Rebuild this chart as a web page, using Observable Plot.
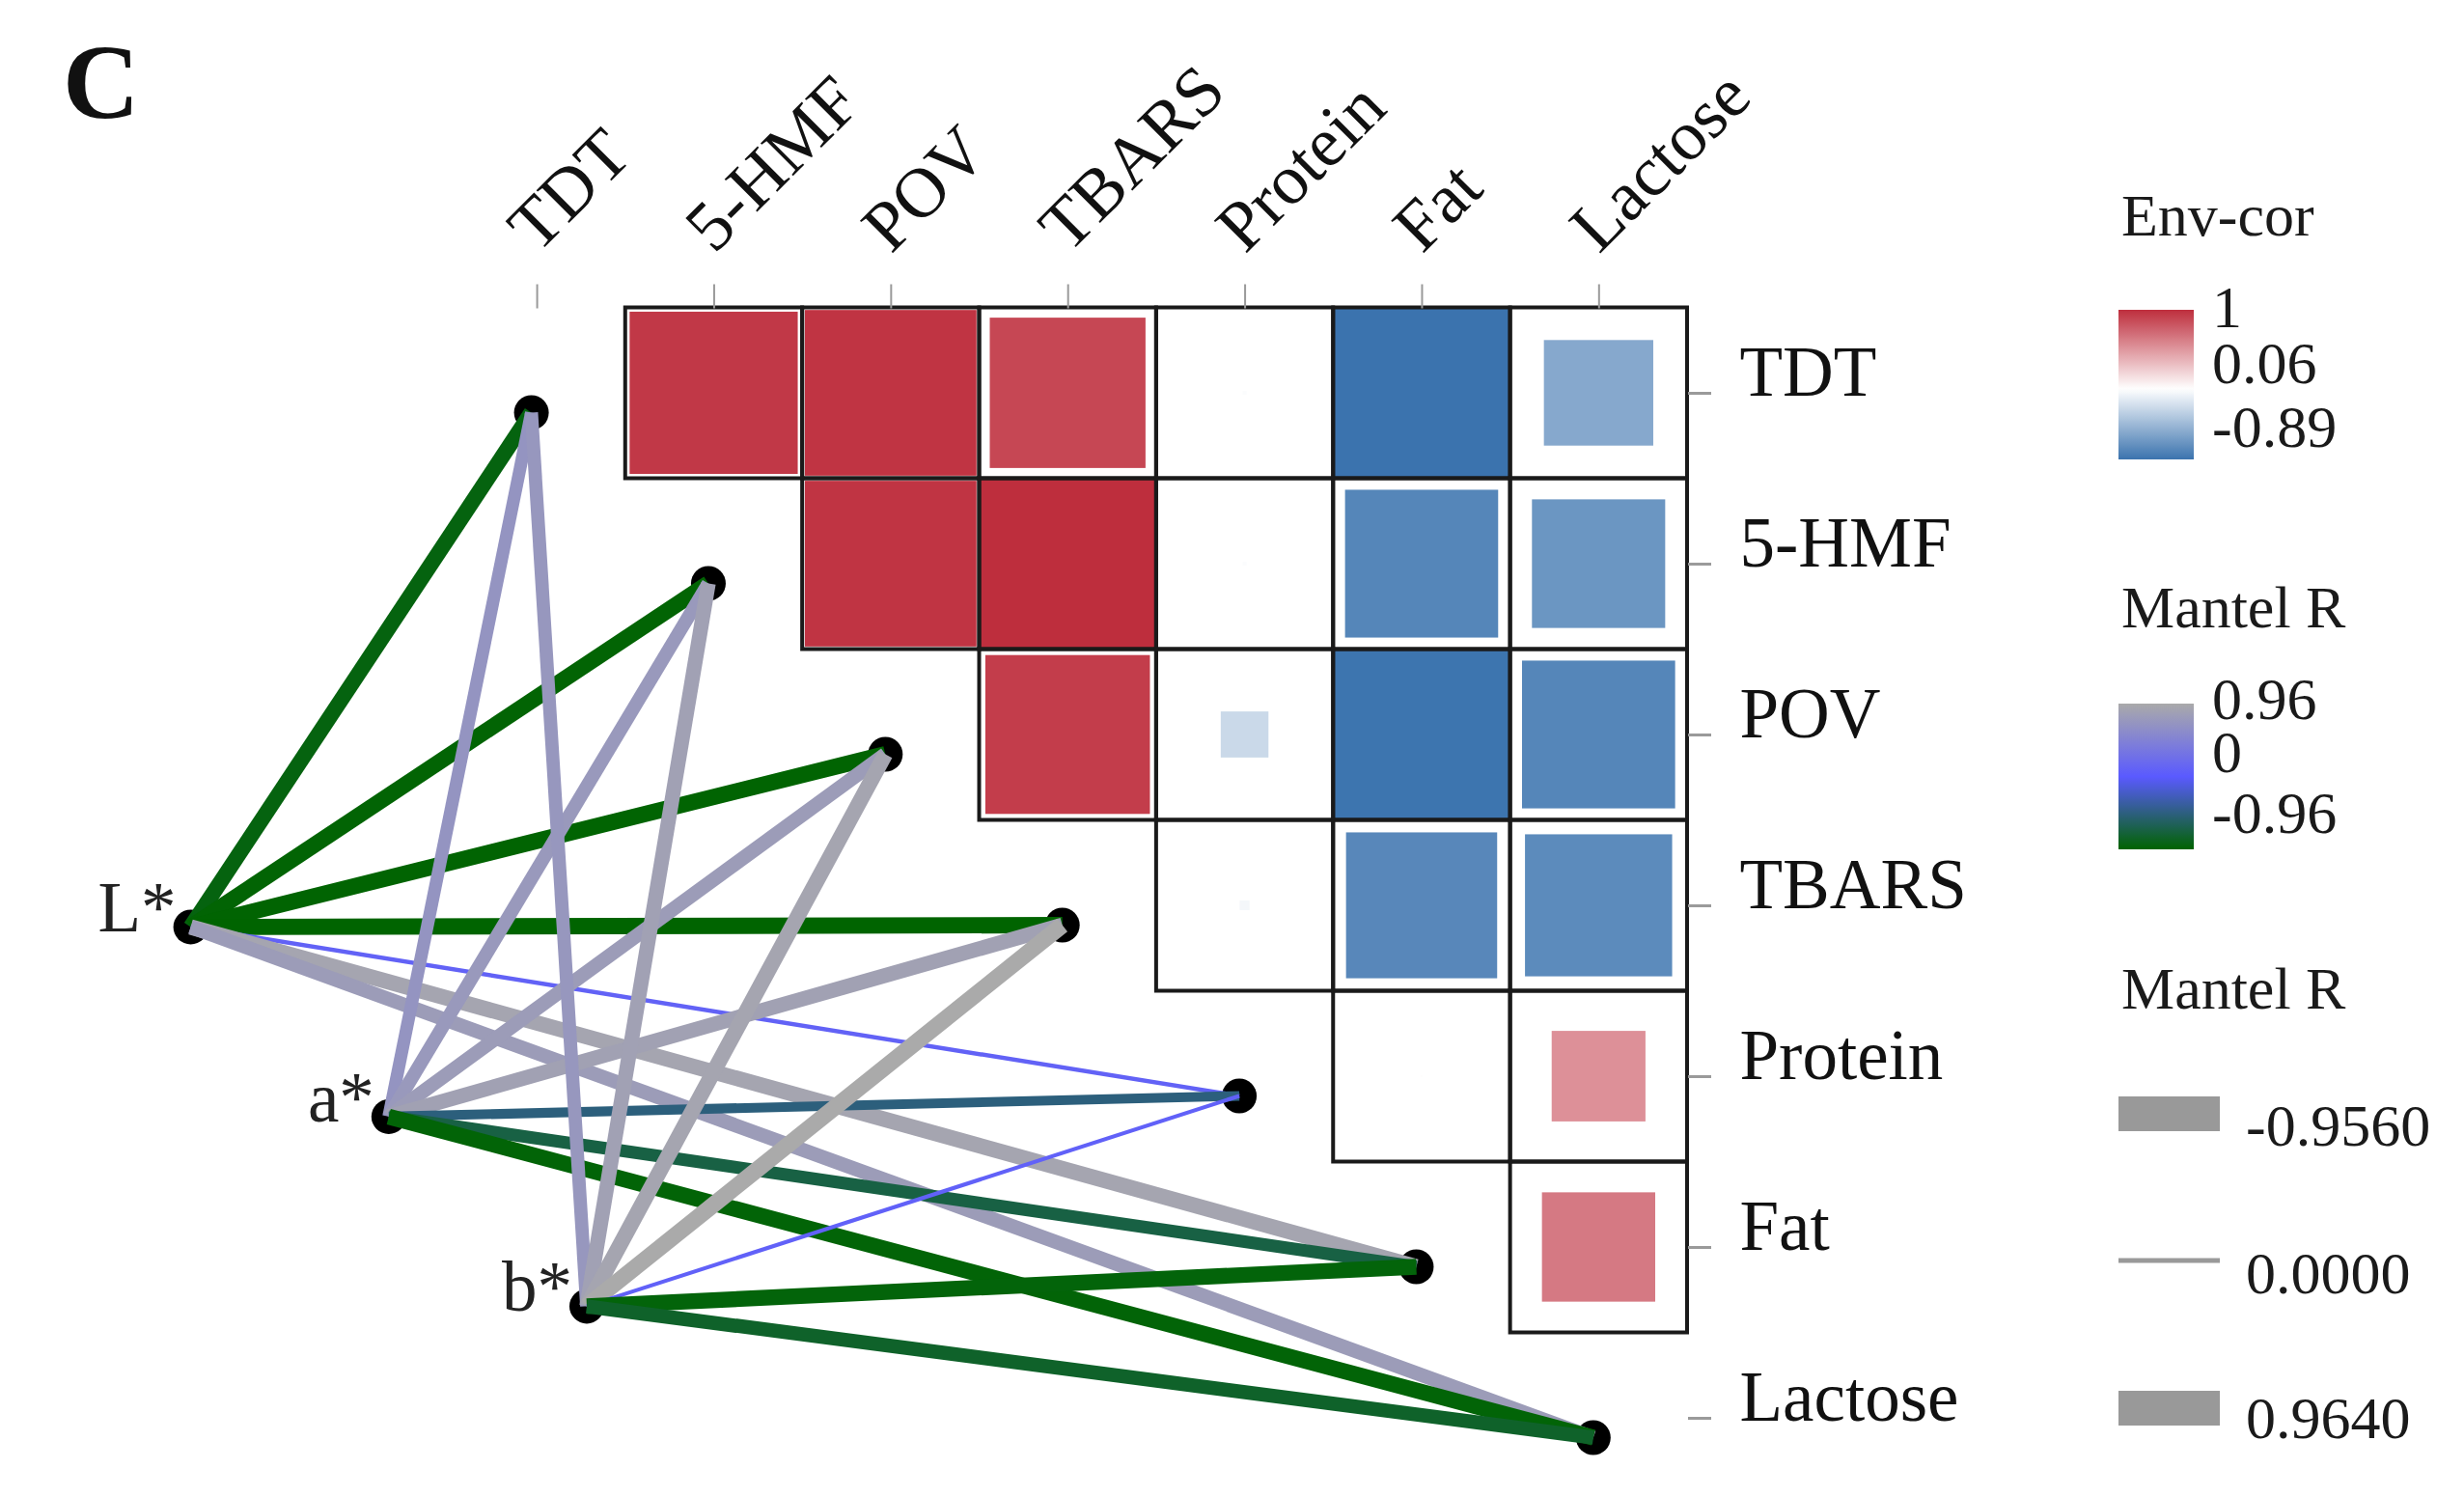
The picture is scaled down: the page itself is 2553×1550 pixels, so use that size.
<!DOCTYPE html>
<html>
<head>
<meta charset="utf-8">
<script src="https://cdn.jsdelivr.net/npm/d3@7"></script>
<script src="https://cdn.jsdelivr.net/npm/@observablehq/plot@0.6"></script>
<style>
  html, body { margin: 0; padding: 0; background: #fff; overflow: hidden; }
  #chart svg { display: block; }
</style>
</head>
<body>
<div id="chart"></div>
<script>
// ---------------- DATA ----------------
const variables = ["TDT", "5-HMF", "POV", "TBARS", "Protein", "Fat", "Lactose"];

// Env-cor: upper triangle (row variable vs column variable), null = not drawn
const envCorTDT     = [null, 0.95, 0.97, 0.88, -0.02, -0.89, -0.55];
const envCor5HMF    = [null, null, 0.97, 1.00, -0.02, -0.77, -0.67];
const envCorPOV     = [null, null, null, 0.93, -0.24, -0.88, -0.77];
const envCorTBARS   = [null, null, null, null, -0.05, -0.76, -0.74];
const envCorProtein = [null, null, null, null, null, 0.01, 0.53];
const envCorFat     = [null, null, null, null, null, null, 0.64];
const envCorLactose = [null, null, null, null, null, null, null];
const envCorRows = [envCorTDT, envCor5HMF, envCorPOV, envCorTBARS, envCorProtein, envCorFat, envCorLactose];

// Mantel R between each spec and each variable
const specs = ["L*", "a*", "b*"];
const mantelL = [-0.90, -0.94, -0.95, -0.956, 0.10, 0.90, 0.80];
const mantelA = [0.70, 0.76, 0.80, 0.86, -0.49, -0.70, -0.93];
const mantelB = [0.74, 0.85, 0.90, 0.964, 0.08, -0.92, -0.80];
const mantelRows = [mantelL, mantelA, mantelB];

// legend labels
const envLegendLabels = ["1", "0.06", "-0.89"];
const mantelColorLabels = ["0.96", "0", "-0.96"];
const mantelWidthLabels = ["-0.9560", "0.0000", "0.9640"];

// ---------------- DERIVED ----------------
const cells = [];
envCorRows.forEach((row, j) => row.forEach((r, k) => { if (r !== null) cells.push({row: j, col: k, r}); }));

// layout of spec nodes: a line parallel to the diagonal, left of the matrix
const specNodes = specs.map((name, e) => ({name, x: -1.925 + 1.119 * e, y: 3.011 + 1.11 * e}));
const varNodes = variables.map((name, k) => ({name, x: k, y: k}));
const links = [];
mantelRows.forEach((row, e) => row.forEach((r, k) => links.push({
  x1: specNodes[e].x, y1: specNodes[e].y, x2: varNodes[k].x, y2: varNodes[k].y, r
})));

// scales
const envColor = Plot.scale({color: {type: "linear", domain: [-0.89, 0, 1], range: ["#3B73AE", "#FFFFFF", "#BE2E3D"], interpolate: "rgb"}});
const mantelColor = Plot.scale({color: {type: "linear", domain: [-0.956, 0, 0.964], range: ["#006400", "#5A5AFF", "#AAAAAA"], interpolate: "rgb"}});
const tileSize = d3.scaleLinear().domain([-0.89, 0, 1]).range([1, 0, 1]).clamp(true);
const linkWidth = d3.scaleLinear().domain([0, 0.964]).range([3, 17]);

const W = 2553, H = 1550;
const nodeDx = -6, nodeDy = 20;
const serif = "Liberation Serif";

const plot = Plot.plot({
  width: W, height: H,
  marginLeft: 464.4, marginRight: 805, marginTop: 318.5, marginBottom: 0,
  x: {type: "linear", domain: [-0.5, 6.5]},
  y: {type: "linear", domain: [-0.5, 6.4576], reverse: true},
  color: {type: "identity"},
  style: {fontFamily: serif, background: "white", overflow: "visible"},
  marks: [
    // correlation tiles
    Plot.rect(cells, {
      x1: d => d.col - tileSize(d.r) / 2, x2: d => d.col + tileSize(d.r) / 2,
      y1: d => d.row - tileSize(d.r) / 2, y2: d => d.row + tileSize(d.r) / 2,
      fill: d => envColor.apply(d.r)
    }),
    // cell borders
    Plot.rect(cells, {
      x1: d => d.col - 0.5, x2: d => d.col + 0.5, y1: d => d.row - 0.5, y2: d => d.row + 0.5,
      fill: "none", stroke: "#1a1a1a", strokeWidth: 4
    }),
    Plot.axisX({anchor: "top", ticks: d3.range(variables.length), tickFormat: () => "", tickSize: 25, stroke: "#9a9a9a", strokeWidth: 2}),
    Plot.axisY({anchor: "right", ticks: d3.range(variables.length), tickFormat: () => "", tickSize: 24, stroke: "#9a9a9a", strokeWidth: 3}),
    // nodes
    Plot.dot(specNodes.concat(varNodes), {x: "x", y: "y", r: 18, fill: "black", dx: nodeDx, dy: nodeDy}),
    // mantel links
    Plot.link(links, {
      x1: "x1", y1: "y1", x2: "x2", y2: "y2",
      stroke: d => mantelColor.apply(d.r),
      strokeWidth: d => linkWidth(Math.abs(d.r)),
      strokeLinecap: "butt",
      dx: nodeDx, dy: nodeDy
    }),
    // labels
    Plot.text(variables, {x: (d, i) => i, frameAnchor: "top", dy: -55, rotate: -45, textAnchor: "start", lineAnchor: "bottom", fontSize: 73, fill: "#111"}),
    Plot.text(variables, {y: (d, i) => i, frameAnchor: "right", dx: 54, dy: 2, textAnchor: "start", lineAnchor: "bottom", fontSize: 73, fill: "#111"}),
    Plot.text(specNodes, {x: "x", y: "y", text: "name", dx: nodeDx - 15, dy: nodeDy + 5, textAnchor: "end", lineAnchor: "bottom", fontSize: 73, fill: "#222"})
  ]
});

document.getElementById("chart").appendChild(plot);

// ---------------- TITLE & LEGENDS ----------------
const svg = d3.select(plot.tagName.toLowerCase() === "svg" ? plot : plot.querySelector("svg"));
svg.append("text").attr("x", 65).attr("y", 122).attr("text-anchor", "start").attr("font-family", serif).attr("font-weight", "bold")
  .attr("font-size", 110).attr("fill", "#111").text("C");

const defs = svg.append("defs");
function gradient(id, scale, top, bottom) {
  const g = defs.append("linearGradient").attr("id", id).attr("x1", 0).attr("x2", 0).attr("y1", 0).attr("y2", 1);
  const n = 40;
  for (let t = 0; t <= n; t++) {
    const v = top + (bottom - top) * t / n;
    g.append("stop").attr("offset", t / n).attr("stop-color", scale.apply(v));
  }
}
gradient("envGrad", envColor, 1, -0.89);
gradient("mantelGrad", mantelColor, 0.964, -0.956);

const lg = svg.append("g").attr("font-family", serif).attr("font-size", 62).attr("fill", "#1a1a1a").attr("text-anchor", "start");
lg.append("text").attr("x", 2198).attr("y", 244).text("Env-cor");
lg.append("rect").attr("x", 2195).attr("y", 321).attr("width", 78).attr("height", 155).attr("fill", "url(#envGrad)");
[339, 397, 463].forEach((y, i) => lg.append("text").attr("x", 2292).attr("y", y).text(envLegendLabels[i]));

lg.append("text").attr("x", 2198).attr("y", 650).text("Mantel R");
lg.append("rect").attr("x", 2195).attr("y", 729).attr("width", 78).attr("height", 151).attr("fill", "url(#mantelGrad)");
[745, 800, 863].forEach((y, i) => lg.append("text").attr("x", 2292).attr("y", y).text(mantelColorLabels[i]));

lg.append("text").attr("x", 2198).attr("y", 1045).text("Mantel R");
const keyYs = [1154, 1306, 1459];
const keyH = [36, 5, 36];
keyYs.forEach((y, i) => {
  lg.append("rect").attr("x", 2195).attr("y", y - keyH[i] / 2).attr("width", 105).attr("height", keyH[i]).attr("fill", "#999");
});
[1187, 1340, 1490].forEach((y, i) => lg.append("text").attr("x", 2327).attr("y", y).text(mantelWidthLabels[i]));
</script>
</body>
</html>
